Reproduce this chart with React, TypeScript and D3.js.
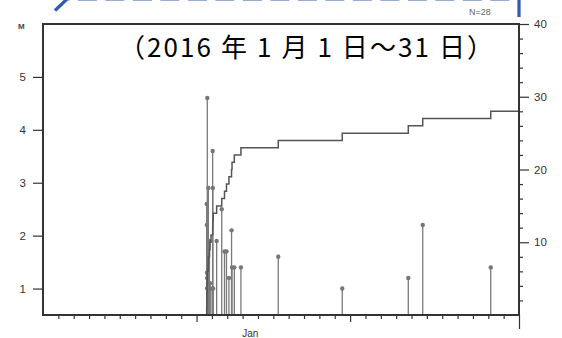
import React, { useRef, useEffect } from "react";
import { select, scaleLinear, axisLeft, axisRight, axisBottom, line, curveStepAfter } from "d3";

// event times (days from start of axis) and magnitudes
const eventDays = [
  10.66, 10.67, 10.68, 10.69, 10.69, 10.7, 10.75, 10.77, 10.84, 10.88, 10.94, 11.05, 11.06, 11.08,
  11.31, 11.64, 11.82, 11.95, 12.11, 12.28, 12.31, 12.46, 12.89,
  15.32, 19.49, 23.79, 24.73, 29.16,
];
const eventMags = [
  2.6, 2.2, 1.3, 1.2, 1.0, 4.6, 1.1, 2.9, 1.9, 1.1, 1.0, 3.6, 2.9, 1.0,
  1.9, 2.5, 1.7, 1.7, 1.2, 2.1, 1.4, 1.4, 1.4,
  1.6, 1.0, 1.2, 2.2, 1.4,
];
const magTicks = [1, 2, 3, 4, 5];
const countTicks = [10, 20, 30, 40];
const countMinor = [2, 4, 6, 8, 12, 14, 16, 18, 22, 24, 26, 28, 32, 34, 36, 38];
const dayMajor = [10, 20];
const monthLabel = "Jan";
const monthLabelDay = 13.5;
const title = "（2016 年 1 月 1 日～31 日）";

const W = 562, H = 338;
const L = 43, R = 519, T = 24, B = 315;

export default function App() {
  const svgRef = useRef(null);

  const x = scaleLinear().domain([0, 31]).range([L, R]);
  const yM = scaleLinear().domain([0.5, 6]).range([B, T]);
  const yN = scaleLinear().domain([0, 40]).range([B, T]);

  const cum = [[eventDays[0], 0]].concat(eventDays.map((d, i) => [d, i + 1]));
  cum.push([31, eventDays.length]);
  const cumPath = line().x(d => x(d[0])).y(d => yN(d[1])).curve(curveStepAfter)(cum);

  useEffect(() => {
    const svg = select(svgRef.current);
    const style = g => {
      g.select(".domain").remove();
      g.selectAll("line").attr("stroke", "#333").attr("stroke-width", 1.2);
      g.selectAll("text").attr("font-family", "Liberation Sans, Arial, sans-serif").attr("font-size", 11.5).attr("fill", "#333");
    };
    svg.select(".ax-left").attr("transform", `translate(${L},0)`)
      .call(axisLeft(yM).tickValues(magTicks).tickSize(10).tickPadding(7).tickFormat(d => String(d))).call(style);
    svg.select(".ax-right").attr("transform", `translate(${R},0)`)
      .call(axisRight(yN).tickValues(countTicks).tickSize(10).tickPadding(5)).call(style);
    svg.select(".ax-right-minor").attr("transform", `translate(${R},0)`)
      .call(axisRight(yN).tickValues(countMinor).tickSize(4).tickFormat(() => "")).call(style);
    const days = [];
    for (let i = 1; i < 31; i++) if (!dayMajor.includes(i)) days.push(i);
    svg.select(".ax-bottom-minor").attr("transform", `translate(0,${B})`)
      .call(axisBottom(x).tickValues(days).tickSize(4).tickFormat(() => "")).call(style);
    svg.select(".ax-bottom-major").attr("transform", `translate(0,${B})`)
      .call(axisBottom(x).tickValues(dayMajor).tickSize(7).tickFormat(() => "")).call(style);
    svg.select(".ax-bottom-end").attr("transform", `translate(0,${B})`)
      .call(axisBottom(x).tickValues([31]).tickSize(14).tickFormat(() => "")).call(style);
  }, []);

  return (
    <svg ref={svgRef} width={W} height={H} style={{ position: "absolute", left: 0, top: 0, background: "#fff" }}>
      <rect x={0} y={0} width={W} height={H} fill="#fff" />
      <path d={`M55,10.5 L67,-1 L519,-1 L519,21`} fill="none" stroke="#2f5cad" strokeWidth={3.2} strokeDasharray="19 8.5" />
      <text x={18} y={29} fontFamily="Liberation Sans, Arial, sans-serif" fontSize={8} fontWeight="bold" fill="#444">M</text>
      <text x={480} y={15} textAnchor="middle" fontFamily="Liberation Sans, Arial, sans-serif" fontSize={9} fill="#666">N=28</text>
      <g className="ax-left" />
      <g className="ax-right" />
      <g className="ax-right-minor" />
      <g className="ax-bottom-minor" />
      <g className="ax-bottom-major" />
      <g className="ax-bottom-end" />
      {eventDays.map((d, i) => (
        <g key={i}>
          <line x1={x(d)} x2={x(d)} y1={yM(0.5)} y2={yM(eventMags[i])} stroke="#7a7a7a" strokeWidth={1.3} />
          <circle cx={x(d)} cy={yM(eventMags[i])} r={2.2} fill="#777" />
        </g>
      ))}
      <path d={cumPath} fill="none" stroke="#555" strokeWidth={1.5} />
      <rect x={L} y={T} width={R - L} height={B - T} fill="none" stroke="#333" strokeWidth={2} />
      <text x={x(monthLabelDay)} y={337} textAnchor="middle" fontFamily="Liberation Sans, Arial, sans-serif" fontSize={10} fill="#333">{monthLabel}</text>
      <text x={119} y={57} fontFamily="Noto Sans CJK JP, sans-serif" fontSize={26} fill="#000" textLength={374} lengthAdjust="spacing" style={{ whiteSpace: "pre" }}>{title}</text>
    </svg>
  );
}
